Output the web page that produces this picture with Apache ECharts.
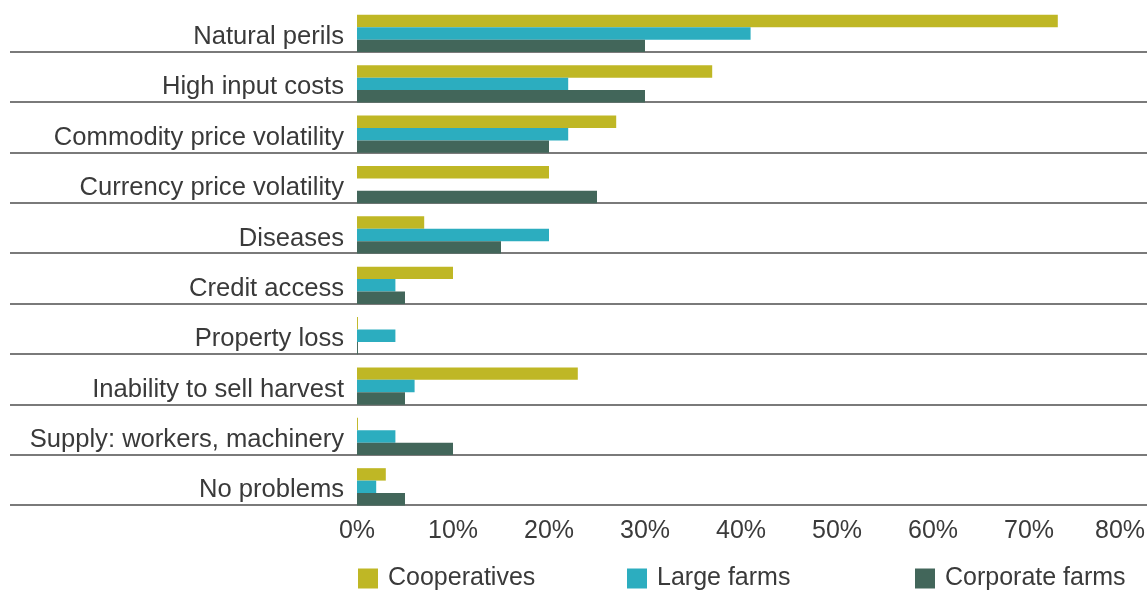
<!DOCTYPE html>
<html>
<head>
<meta charset="utf-8">
<title>Farm problems</title>
<script src="https://cdn.jsdelivr.net/npm/echarts@6/dist/echarts.min.js"></script>
<style>
  html, body { margin: 0; padding: 0; background: #fff; }
  #main { width: 1147px; height: 590px; }
</style>
</head>
<body>
<div id="main"></div>
<script>
// categories, top to bottom
const categories = [
  "Natural perils",
  "High input costs",
  "Commodity price volatility",
  "Currency price volatility",
  "Diseases",
  "Credit access",
  "Property loss",
  "Inability to sell harvest",
  "Supply: workers, machinery",
  "No problems"
];

// share of respondents, %
const cooperatives = [73, 37, 27, 20, 7, 10, 0.1, 23, 0.1, 3];
const largeFarms = [41, 22, 22, 0, 20, 4, 4, 6, 4, 2];
const corporateFarms = [30, 30, 20, 25, 15, 5, 0.1, 5, 10, 5];

const xTicks = [0, 10, 20, 30, 40, 50, 60, 70, 80];

const seriesNames = ["Cooperatives", "Large farms", "Corporate farms"];
const colors = ["#bfb725", "#2cadbf", "#42665a"];

const textColor = "#3a3a3a";
const font = "Liberation Sans";

let myChart = echarts.init(document.getElementById("main"));

// one legend per item so each sits in its own column
const legendLefts = [358, 627, 915];
let legends = seriesNames.map((name, i) => ({
  data: [name],
  left: legendLefts[i],
  top: 566,
  padding: 0,
  icon: "rect",
  itemWidth: 20,
  itemHeight: 20,
  textStyle: {
    fontFamily: font,
    fontSize: 25,
    color: textColor,
    padding: [4, 0, 0, 5]
  }
}));

let seriesData = [cooperatives, largeFarms, corporateFarms];
let series_list = seriesData.map((d, i) => ({
  name: seriesNames[i],
  type: "bar",
  xAxisIndex: 0,
  yAxisIndex: 0,
  data: d,
  barGap: "0%",
  barCategoryGap: "26%",
  itemStyle: { color: colors[i] },
  silent: true
}));

myChart.setOption({
  animation: false,
  backgroundColor: "#fff",
  legend: legends,
  grid: [
    // bars
    { left: 357, right: 22, top: 8.3, height: 503.7, outerBoundsMode: "none" },
    // separator lines, wider and a little higher than the bar bands
    { left: 10, right: 0, top: 1.3, height: 503.7, outerBoundsMode: "none" }
  ],
  xAxis: [
    {
      gridIndex: 0,
      type: "value",
      min: xTicks[0],
      max: xTicks[xTicks.length - 1],
      interval: 10,
      axisLine: { show: false },
      axisTick: { show: false },
      splitLine: { show: false },
      axisLabel: {
        // last label sits a little inside the page edge
        formatter: (v) => (v === 80 ? "{last|" + v + "%}" : v + "%"),
        fontFamily: font,
        fontSize: 25,
        color: textColor,
        margin: 7,
        rich: {
          last: { fontFamily: font, fontSize: 25, color: textColor, padding: [0, 10, 0, 0] }
        }
      }
    },
    {
      gridIndex: 1,
      type: "value",
      min: 0,
      max: 1,
      show: false
    }
  ],
  yAxis: [
    {
      gridIndex: 0,
      type: "category",
      inverse: true,
      data: categories,
      axisLine: { show: false },
      axisTick: { show: false },
      splitLine: { show: false },
      axisLabel: {
        // labels sit slightly below the bar centre
        formatter: (v) => "{c|" + v + "}",
        margin: 13,
        rich: {
          c: { fontFamily: font, fontSize: 25.6, color: textColor, padding: [7, 0, 0, 0] }
        }
      }
    },
    {
      gridIndex: 1,
      type: "category",
      inverse: true,
      data: categories,
      axisLine: { show: false },
      axisTick: { show: false },
      axisLabel: { show: false },
      splitLine: {
        show: true,
        showMinLine: false,
        lineStyle: { color: "#7a7a7a", width: 2 }
      }
    }
  ],
  series: series_list
});
</script>
</body>
</html>
